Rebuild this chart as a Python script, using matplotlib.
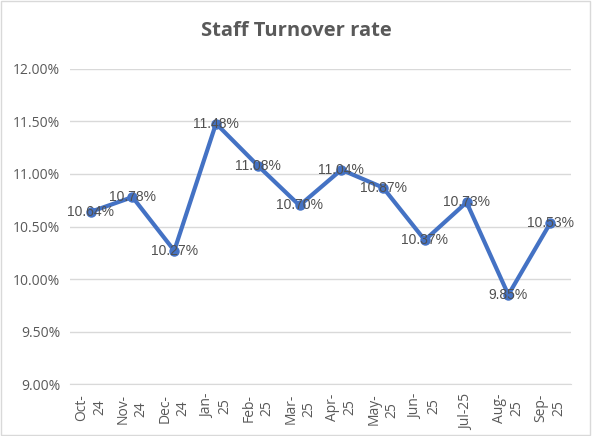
import matplotlib
matplotlib.use('Agg')
import matplotlib.pyplot as plt
from matplotlib.patches import Rectangle
from matplotlib.ticker import FuncFormatter

months = ['Oct-\n24', 'Nov-\n24', 'Dec-\n24', 'Jan-\n25', 'Feb-\n25', 'Mar-\n25',
          'Apr-\n25', 'May-\n25', 'Jun-\n25', 'Jul-25', 'Aug-\n25', 'Sep-\n25']
turnover = [10.64, 10.78, 10.27, 11.48, 11.08, 10.70, 11.04, 10.87, 10.37, 10.73, 9.85, 10.53]

LINE = '#4472C4'
GRID = '#D9D9D9'
TEXT = '#595959'

fig = plt.figure(figsize=(5.92, 4.36), dpi=100)
ax = fig.add_axes([0.118, 0.119, 0.8465, 0.723])

xs = list(range(len(months)))
ax.plot(xs, turnover, color=LINE, linewidth=3.0, marker='o', markersize=6.5,
        solid_capstyle='round', solid_joinstyle='round', zorder=3)

for x, v in zip(xs, turnover):
    ax.text(x, v, '%.2f%%' % v, ha='center', va='center', fontsize=10,
            color='#505050', family='Liberation Sans', zorder=4)

ax.set_xlim(-0.5, len(months) - 0.5)
ax.set_ylim(9.0, 12.0)
ax.set_yticks([9.0, 9.5, 10.0, 10.5, 11.0, 11.5, 12.0])
ax.yaxis.set_major_formatter(FuncFormatter(lambda v, p: '%.2f%%' % v))
ax.set_xticks(xs)
ax.set_xticklabels(months, rotation=90, va='top', ha='center', linespacing=1.25)

for lab in ax.get_xticklabels() + ax.get_yticklabels():
    lab.set_family('Open Sans')
    lab.set_fontsize(10)
    lab.set_color(TEXT)

ax.tick_params(length=0, pad=7)
ax.grid(axis='y', color=GRID, linewidth=1)
ax.set_axisbelow(True)
for s in ['top', 'right', 'left']:
    ax.spines[s].set_visible(False)
ax.spines['bottom'].set_color(GRID)

fig.text(0.5, 0.93, 'Staff Turnover rate', ha='center', va='center',
         fontsize=14.5, fontweight='bold', color=TEXT, family='Open Sans')

fig.patches.append(Rectangle((0.002, 0.003), 0.995, 0.994, transform=fig.transFigure,
                             fill=False, edgecolor=GRID, linewidth=1))

plt.savefig('out.png', dpi=100)
